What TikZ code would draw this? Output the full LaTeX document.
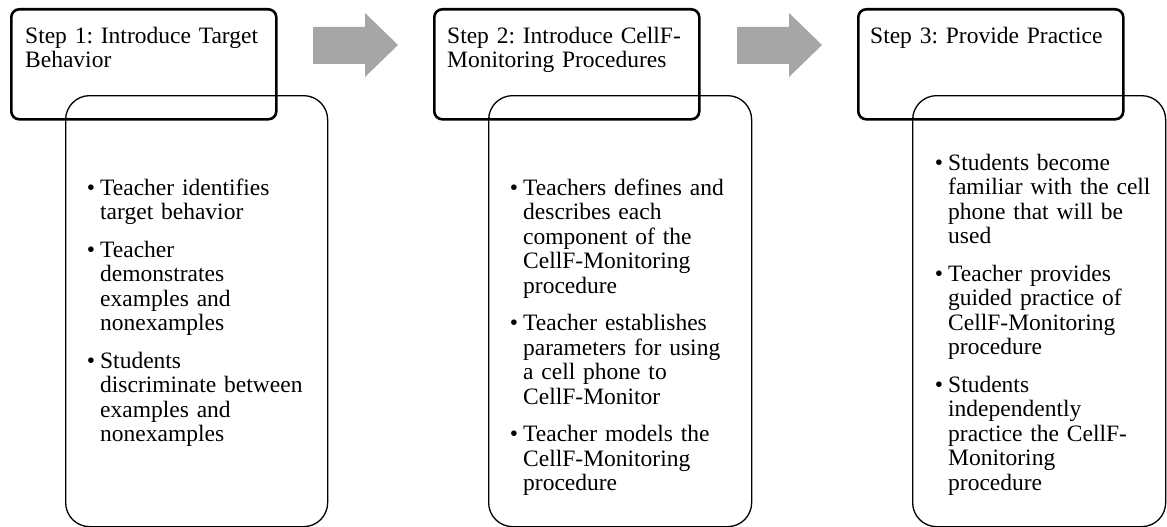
\documentclass[tikz,border=0pt]{standalone}
\usepackage{fontspec}
\setmainfont{Liberation Serif}
\frenchspacing
\definecolor{arrowgray}{RGB}{166,166,166}
\tikzset{
  headbox/.style={draw, line width=2.6pt, rounded corners=8pt, minimum width=265pt,
    minimum height=110pt, anchor=north west, inner sep=0pt},
  bodybox/.style={draw, line width=1.3pt, rounded corners=24pt, minimum height=431pt,
    anchor=north west, inner sep=0pt},
  headtext/.style={anchor=base west, inner sep=0pt, text width=250pt, align=left,
    font=\fontsize{23.5}{24}\selectfont},
  listtext/.style={anchor=base west, inner sep=0pt, text width=235pt, align=left,
    font=\fontsize{23.5}{24.5}\selectfont, execute at begin node={\setlength{\parskip}{13pt}}},
  blockarrow/.style={fill=arrowgray, draw=none}
}
\newcommand{\bul}{\hangindent=11pt\hangafter=0\noindent\llap{\textbullet\hspace{5pt}}}
\begin{document}
\begin{tikzpicture}[x=1pt, y=-1pt, line join=round]
  \useasboundingbox (0,0) rectangle (1167,527);
  %%%%%%%%%%%%%%%%%%%%%%%%%%%%%%%%%
  % grey arrows between the steps
  \foreach \d in {0,424}{
    \fill[blockarrow] (313+\d,27) -- (365+\d,27) -- (365+\d,13) -- (398+\d,45)
      -- (365+\d,77) -- (365+\d,64) -- (313+\d,64) -- cycle;
  }
  %%%%%%%%%%%%%%%%%%%%%%%%%%%%%%%%%
  % boxes
  \foreach \i/\x in {1/10, 2/433, 3/857}{
    \node[headbox] (head\i) at (\x,8) {};
  }
  \node[bodybox, minimum width=262pt] (body1) at (65,95) {};
  \node[bodybox, minimum width=263pt] (body2) at (488,95) {};
  \node[bodybox, minimum width=253pt] (body3) at (912,95) {};
  %%%%%%%%%%%%%%%%%%%%%%%%%%%%%%%%%
  % step titles
  \node[headtext] (title1) at ([xshift=15pt, yshift=-36pt]head1.north west)
    {Step 1: Introduce Target\\Behavior};
  \node[headtext] (title2) at ([xshift=14pt, yshift=-36pt]head2.north west)
    {Step 2: Introduce CellF-\\Monitoring Procedures};
  \node[headtext] (title3) at ([xshift=13pt, yshift=-36pt]head3.north west)
    {Step 3: Provide Practice};
  %%%%%%%%%%%%%%%%%%%%%%%%%%%%%%%%%
  % bullet lists
  \node[listtext] (list1) at ([xshift=24pt, yshift=-100pt]body1.north west) {%
    \bul Teacher identifies\newline target behavior\par
    \bul Teacher\newline demonstrates\newline examples and\newline nonexamples\par
    \bul Students\newline discriminate between\newline examples and\newline nonexamples\par};
  \node[listtext] (list2) at ([xshift=24pt, yshift=-100pt]body2.north west) {%
    \bul Teachers defines and\newline describes each\newline component of the\newline CellF-Monitoring\newline procedure\par
    \bul Teacher establishes\newline parameters for using\newline a cell phone to\newline CellF-Monitor\par
    \bul Teacher models the\newline CellF-Monitoring\newline procedure\par};
  \node[listtext] (list3) at ([xshift=25pt, yshift=-75pt]body3.north west) {%
    \bul Students become\newline familiar with the cell\newline phone that will be\newline used\par
    \bul Teacher provides\newline guided practice of\newline CellF-Monitoring\newline procedure\par
    \bul Students\newline independently\newline practice the CellF-\newline Monitoring\newline procedure\par};
  %%%%%%%%%%%%%%%%%%%%%%%%%%%%%%%%%
\end{tikzpicture}
\end{document}
